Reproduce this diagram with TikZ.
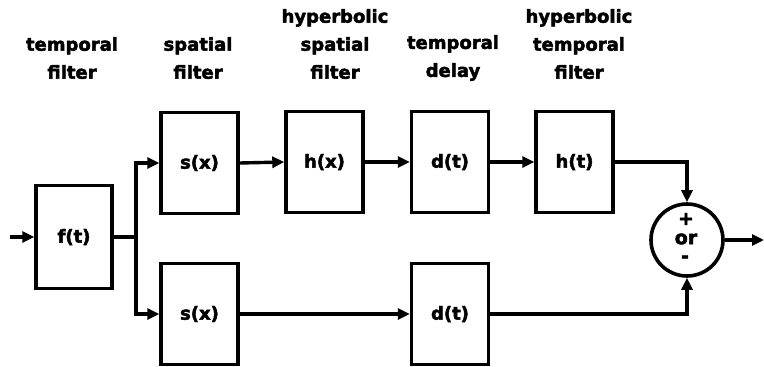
\documentclass[tikz,border=0pt]{standalone}
\usepackage{fontspec}
\setmainfont{DejaVu Sans}[BoldFeatures={FakeBold=2.5}]
\usetikzlibrary{arrows.meta,positioning}
\tikzset{
  blk/.style={draw, line width=3.4pt, minimum width=77pt, minimum height=101pt, inner sep=0pt, font=\fontsize{18}{20}\selectfont\bfseries},
  lbl/.style={align=center, inner sep=0pt, font=\fontsize{18}{28}\selectfont\bfseries},
  wire/.style={line width=3.4pt},
  arr/.style={line width=3.4pt, -{Triangle[length=12pt,width=11pt]}},
  sumnode/.style={draw, circle, line width=3.6pt, minimum size=72pt, inner sep=0pt},
  signs/.style={inner sep=0pt, font=\fontsize{19}{20}\selectfont\bfseries}
}
\begin{document}
\begin{tikzpicture}[x=1pt,y=-1pt]
\useasboundingbox (0,0) rectangle (764,367);
% labels
\node[lbl] (l1) at (72,58) {temporal\\filter};
\node[lbl] (l2) at (198,58) {spatial\\filter};
\node[lbl] (l3) at (335,44) {hyperbolic\\spatial\\filter};
\node[lbl] (l4) at (453,58) {temporal\\delay};
\node[lbl] (l5) at (579,44) {hyperbolic\\temporal\\filter};
% blocks
\node[blk, minimum width=76pt, minimum height=103pt] (f) at (74,237) {f(t)};
\node[blk] (s1) at (199.5,163) {s(x)};
\node[blk] (hx) at (324.5,162) {h(x)};
\node[blk] (d1) at (450,162) {d(t)};
\node[blk] (ht) at (574.5,162) {h(t)};
\node[blk] (s2) at (199.5,314) {s(x)};
\node[blk] (d2) at (450,314) {d(t)};
% summing junction
\node[sumnode] (sum) at (687,240) {};
\node[signs] (plus) at (686,219) {+};
\node[signs] (or) at (686,239) {or};
\node[signs] (minus) at (685,259) {-};
% connectors
\coordinate (in) at (10,237);
\coordinate (br) at (136,237);
\coordinate (out) at (764,240);
\draw[arr] (in) -- (f.west);
\draw[wire] (f.east) -- (br);
\draw[arr] (br) |- (s1.west);
\draw[arr] (br) |- (s2.west);
\draw[arr] (s1.east) -- (hx.west);
\draw[arr] (hx.east) -- (d1.west);
\draw[arr] (d1.east) -- (ht.west);
\draw[arr] (s2.east) -- (d2.west);
\draw[arr] (ht.east) -| (sum.north);
\draw[arr] (d2.east) -| (sum.south);
\draw[arr] (sum.east) -- (out);
\end{tikzpicture}
\end{document}
